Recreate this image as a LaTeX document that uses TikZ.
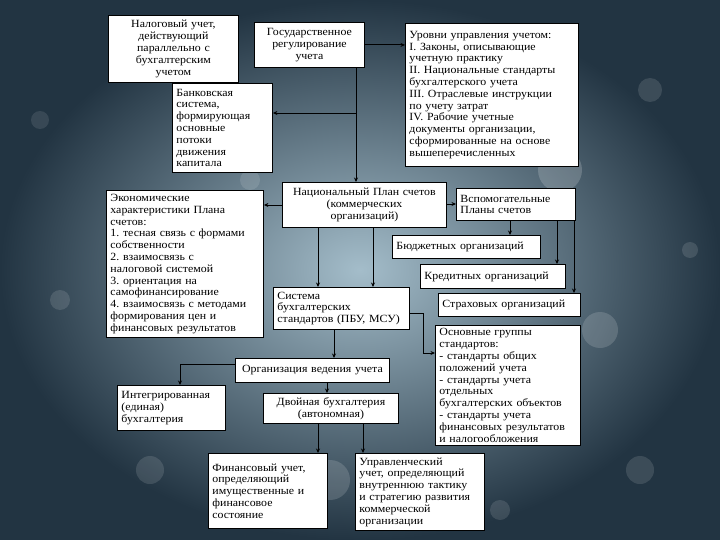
\documentclass[tikz,border=0pt]{standalone}
\usepackage{fontspec}
\setmainfont[FakeStretch=1.08]{Liberation Serif}
\usetikzlibrary{arrows.meta}
\tikzset{
  box/.style={draw=black,fill=white,line width=0.9pt,inner xsep=3pt,inner ysep=2pt,font=\fontsize{11}{11.8}\selectfont},
  lbox/.style={box,align=left},
  cbox/.style={box,align=center},
  arr/.style={line width=0.9pt,-{Stealth[length=4.5pt,width=4pt]}},
  lnk/.style={line width=0.9pt},
  bokeh/.style={fill=white,draw=none}
}
% style, name, x1, y1, x2, y2, text
\newcommand{\plbox}[7][lbox]{%
  \pgfmathsetmacro\bw{#5-#3}\pgfmathsetmacro\bh{#6-#4}\pgfmathsetmacro\tw{#5-#3-8}%
  \node[#1,anchor=north west,minimum width=\bw pt,minimum height=\bh pt,text width=\tw pt] (#2) at (#3,#4) {#7};}
\frenchspacing

\begin{document}
\begin{tikzpicture}[x=1pt,y=-1pt]
\useasboundingbox (0,0) rectangle (720,540);
\shade[inner color={rgb,255:red,164;green,189;blue,202},outer color={rgb,255:red,34;green,52;blue,66}] (0,0) rectangle (720,540);
% bokeh
\foreach \bx/\by/\br/\bo in {560/170/22/0.18,600/330/18/0.15,330/480/20/0.15,150/470/14/0.12,60/300/10/0.12,
  650/90/12/0.12,420/200/16/0.12,640/470/14/0.12,40/120/9/0.10,250/180/10/0.12,690/250/8/0.12,500/510/10/0.12}
  \fill[bokeh,opacity=\bo] (\bx,\by) circle (\br);

\plbox[cbox]{nalog}{108}{15}{238}{82}{Налоговый учет,\\действующий\\параллельно с\\бухгалтерским\\учетом}
\plbox[cbox]{gosreg}{254}{22}{364}{67}{Государственное\\регулирование\\учета}
\plbox{urovni}{405}{23}{578}{166}{Уровни управления учетом:\\I. Законы, описывающие\\учетную практику\\II. Национальные стандарты\\бухгалтерского учета\\III. Отраслевые инструкции\\по учету затрат\\IV. Рабочие учетные\\документы организации,\\сформированные на основе\\вышеперечисленных}
\plbox{bank}{172}{83}{272}{172}{Банковская\\система,\\формирующая\\основные\\потоки\\движения\\капитала}
\plbox{econ}{106}{190}{263}{337}{Экономические\\характеристики Плана\\счетов:\\1. тесная связь с формами\\собственности\\2. взаимосвязь с\\налоговой системой\\3. ориентация на\\самофинансирование\\4. взаимосвязь с методами\\формирования цен и\\финансовых результатов}
\plbox[cbox]{nps}{282}{182}{446}{227}{Национальный План счетов\\(коммерческих\\организаций)}
\plbox{vspom}{456}{188}{575}{220}{Вспомогательные\\Планы счетов}
\plbox{budg}{392}{235}{540}{258}{Бюджетных организаций}
\plbox{kred}{420}{264}{565}{288}{Кредитных организаций}
\plbox{strah}{438}{293}{580}{316}{Страховых организаций}
\plbox{sist}{273}{287}{409}{329}{Система\\бухгалтерских\\стандартов (ПБУ, МСУ)}
\plbox{grup}{435}{325}{580}{445}{Основные группы\\стандартов:\\- стандарты общих\\положений учета\\- стандарты учета\\отдельных\\бухгалтерских объектов\\- стандарты учета\\финансовых результатов\\и налогообложения}
\plbox[cbox]{org}{235}{358}{389}{382}{Организация ведения учета}
\plbox{integ}{117}{385}{225}{430}{Интегрированная\\(единая)\\бухгалтерия}
\plbox[cbox]{dvoin}{263}{393}{398}{423}{Двойная бухгалтерия\\(автономная)}
\plbox{fin}{208}{453}{327}{528}{Финансовый учет,\\определяющий\\имущественные и\\финансовое\\состояние}
\plbox{upr}{355}{453}{484}{530}{Управленческий\\учет, определяющий\\внутреннюю тактику\\и стратегию развития\\коммерческой\\организации}

\draw[arr] (gosreg.east) -- (gosreg.east -| urovni.west);
\draw[arr] (356,0 |- gosreg.south) -- (356,0 |- nps.north);
\draw[arr] (356,113) -- (bank.east |- 0,113);
\draw[arr] (nps.west |- 0,205) -- (econ.east |- 0,205);
\draw[arr] (nps.east |- 0,204) -- (vspom.west |- 0,204);
\draw[arr] (510,0 |- vspom.south) -- (510,0 |- budg.north);
\draw[arr] (557,0 |- vspom.south) -- (557,0 |- kred.north);
\draw[arr] (574,0 |- vspom.south) -- (574,0 |- strah.north);
\draw[arr] (318,0 |- nps.south) -- (318,0 |- sist.north);
\draw[arr] (373,0 |- nps.south) -- (373,0 |- sist.north);
\draw[arr] (sist.east |- 0,313) -- (423,313) -- (423,353) -- (grup.west |- 0,353);
\draw[arr] (334,0 |- sist.south) -- (334,0 |- org.north);
\draw[arr] (org.west |- 0,364) -- (180,364) -- (180,0 |- integ.north);
\draw[arr] (327,0 |- org.south) -- (327,0 |- dvoin.north);
\draw[arr] (318,0 |- dvoin.south) -- (318,0 |- fin.north);
\draw[arr] (363,0 |- dvoin.south) -- (363,0 |- upr.north);
\end{tikzpicture}
\end{document}
